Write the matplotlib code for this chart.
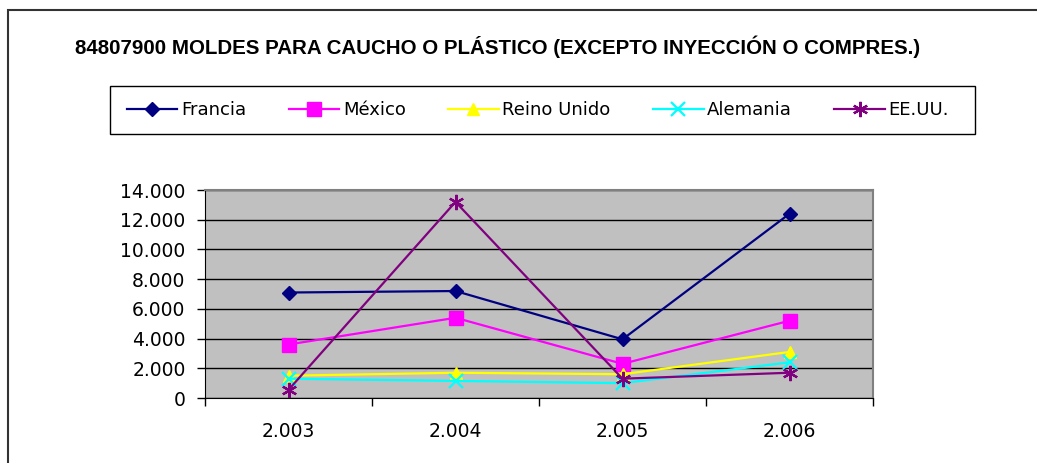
import numpy as np
import matplotlib
matplotlib.use("Agg")
import matplotlib.pyplot as plt
from matplotlib.ticker import FuncFormatter, FixedLocator
from matplotlib.patches import Rectangle

# data
years = ["2.003", "2.004", "2.005", "2.006"]
francia = [7100, 7200, 3950, 12400]
mexico = [3600, 5400, 2300, 5200]
reino_unido = [1500, 1700, 1600, 3100]
alemania = [1300, 1150, 1000, 2400]
eeuu = [550, 13200, 1300, 1700]

series = [
    ("Francia", francia, "#000080", "D", 7),
    ("México", mexico, "#FF00FF", "s", 10),
    ("Reino Unido", reino_unido, "#FFFF00", "^", 9),
    ("Alemania", alemania, "#00FFFF", "x", 10),
    ("EE.UU.", eeuu, "#800080", (6, 2, 0), 11),
]

W, H = 1037, 463
fig = plt.figure(figsize=(W / 100, H / 100), dpi=100)

# outer chart frame
fig.patches.append(Rectangle((8 / W, -0.1), 1.2, 1 - 10 / H + 0.1,
                             transform=fig.transFigure, fill=False,
                             edgecolor="#333333", linewidth=1.5))

ax = fig.add_axes([205 / W, 1 - 398 / H, 668 / W, 208 / H])
ax.set_facecolor("#C0C0C0")

x = np.arange(1, len(years) + 1)
for name, vals, col, mk, ms in series:
    ax.plot(x, vals, color=col, marker=mk, markersize=ms, linewidth=1.6,
            markeredgewidth=1.6 if mk in ("x", (6, 2, 0)) else 1,
            label=name)

ax.set_xlim(0.5, len(years) + 0.5)
ax.set_ylim(0, 14000)
ax.set_yticks(np.arange(0, 14001, 2000))
ax.yaxis.set_major_formatter(FuncFormatter(lambda v, p: f"{int(v):,}".replace(",", ".")))
ax.yaxis.grid(True, color="black", linewidth=1)
ax.set_axisbelow(True)

ax.xaxis.set_major_locator(FixedLocator(np.arange(0.5, len(years) + 1, 1)))
ax.xaxis.set_major_formatter(FuncFormatter(lambda v, p: ""))
ax.xaxis.set_minor_locator(FixedLocator(x))
ax.set_xticklabels(years, minor=True)
ax.tick_params(axis="x", which="major", length=6, width=1, direction="out", color="black")
ax.tick_params(axis="x", which="minor", length=0, pad=17, labelsize=13.5)
ax.tick_params(axis="y", length=6, width=1, direction="out", labelsize=13.5, pad=8)

for side in ("top", "right"):
    ax.spines[side].set_color("#808080")
    ax.spines[side].set_linewidth(1.5)
for side in ("left", "bottom"):
    ax.spines[side].set_color("black")

fig.text(75 / W, 1 - 47 / H, "84807900 MOLDES PARA CAUCHO O PLÁSTICO (EXCEPTO INYECCIÓN O COMPRES.)",
         family="Liberation Sans", fontweight="bold", fontsize=14.8, va="center", ha="left")

# legend box drawn separately, entries centred inside it
fig.patches.append(Rectangle((110 / W, 1 - 134 / H), 865 / W, 48 / H,
                             transform=fig.transFigure, fill=False,
                             edgecolor="black", linewidth=1))
leg = fig.legend(loc="center", ncol=5, bbox_to_anchor=(538 / W, 1 - 110 / H),
                 frameon=False, fontsize=13, handlelength=2.8, handletextpad=0.2,
                 columnspacing=2.35, borderaxespad=0, borderpad=0)

fig.savefig("out.png", dpi=100)
